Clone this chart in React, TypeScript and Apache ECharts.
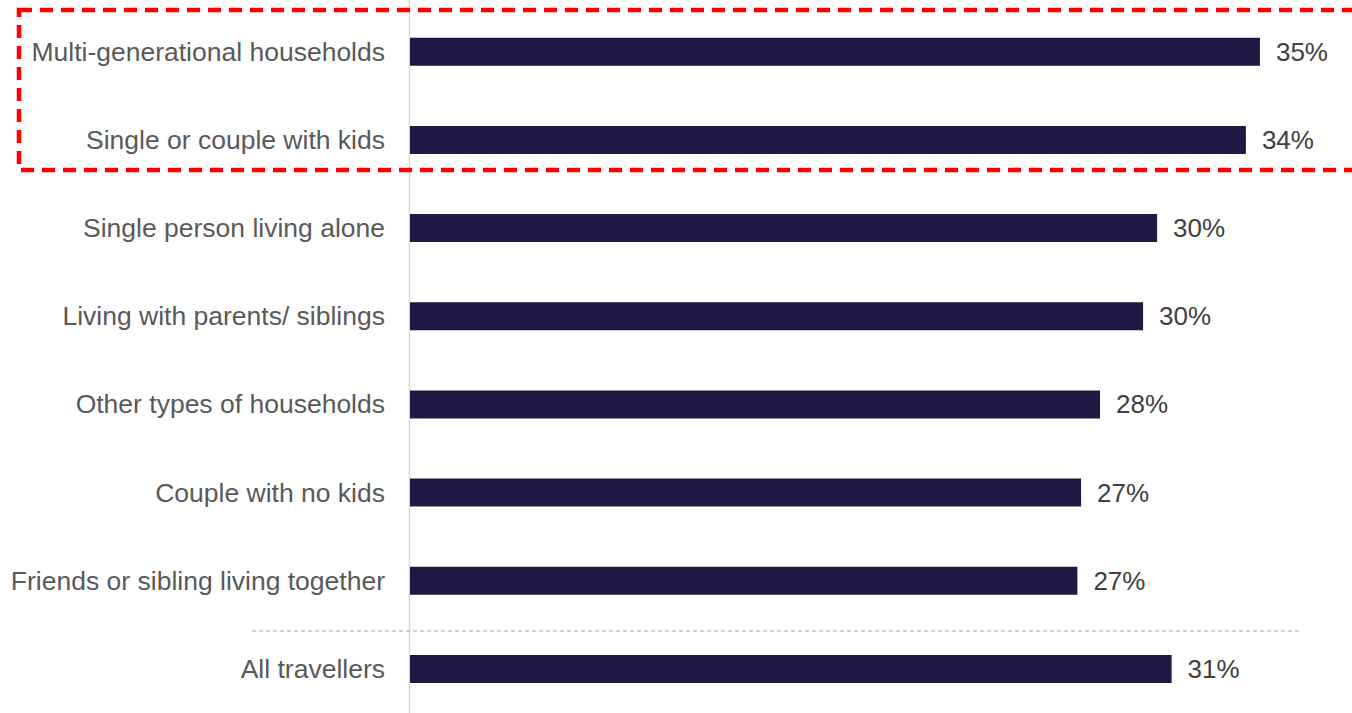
import React, { useEffect, useRef } from "react";
import * as echarts from "echarts";

const categories = [
  "Multi-generational households",
  "Single or couple with kids",
  "Single person living alone",
  "Living with parents/ siblings",
  "Other types of households",
  "Couple with no kids",
  "Friends or sibling living together",
  "All travellers",
];
const values = [34.55, 33.98, 30.37, 29.8, 28.05, 27.28, 27.13, 30.96];

const FONT = "'Liberation Sans', Arial, Helvetica, sans-serif";

export default function App() {
  const ref = useRef<HTMLDivElement>(null);
  useEffect(() => {
    if (!ref.current) return;
    const chart = echarts.init(ref.current, undefined, { renderer: "svg" });
    chart.setOption({
      animation: false,
      backgroundColor: "#ffffff",
      grid: { left: 410, right: 81, top: 7.7, height: 708.6, containLabel: false },
      xAxis: {
        type: "value",
        min: 0,
        max: 35,
        show: false,
      },
      yAxis: {
        type: "category",
        data: categories,
        inverse: true,
        axisLine: { show: false },
        axisTick: { show: false },
        axisLabel: {
          margin: 25,
          color: "#595959",
          fontSize: 26.5,
          fontFamily: FONT,
        },
      },
      series: [
        {
          type: "bar",
          data: values,
          barWidth: 28,
          itemStyle: { color: "#1f1842" },
          label: {
            show: true,
            position: "right",
            distance: 16,
            color: "#404040",
            fontSize: 26,
            fontFamily: FONT,
            formatter: (p: any) => Math.round(p.value) + "%",
          },
        },
      ],
      graphic: [
        {
          type: "line",
          z: -1,
          shape: { x1: 409.5, y1: 0, x2: 409.5, y2: 713 },
          style: { stroke: "#d9d9d9", lineWidth: 1.5 },
        },
        {
          type: "line",
          shape: { x1: 252, y1: 631, x2: 1302, y2: 631 },
          style: { stroke: "#a6a6a6", lineWidth: 1, lineDash: [4, 3] },
        },
        {
          type: "rect",
          shape: { x: 19, y: 10, width: 1345, height: 160 },
          style: { fill: "none", stroke: "#ff0000", lineWidth: 4.5, lineDash: [13, 8] },
        },
      ],
    });
    return () => chart.dispose();
  }, []);
  return (
    <div
      ref={ref}
      style={{ position: "absolute", left: 0, top: 0, width: 1352, height: 713 }}
    />
  );
}
